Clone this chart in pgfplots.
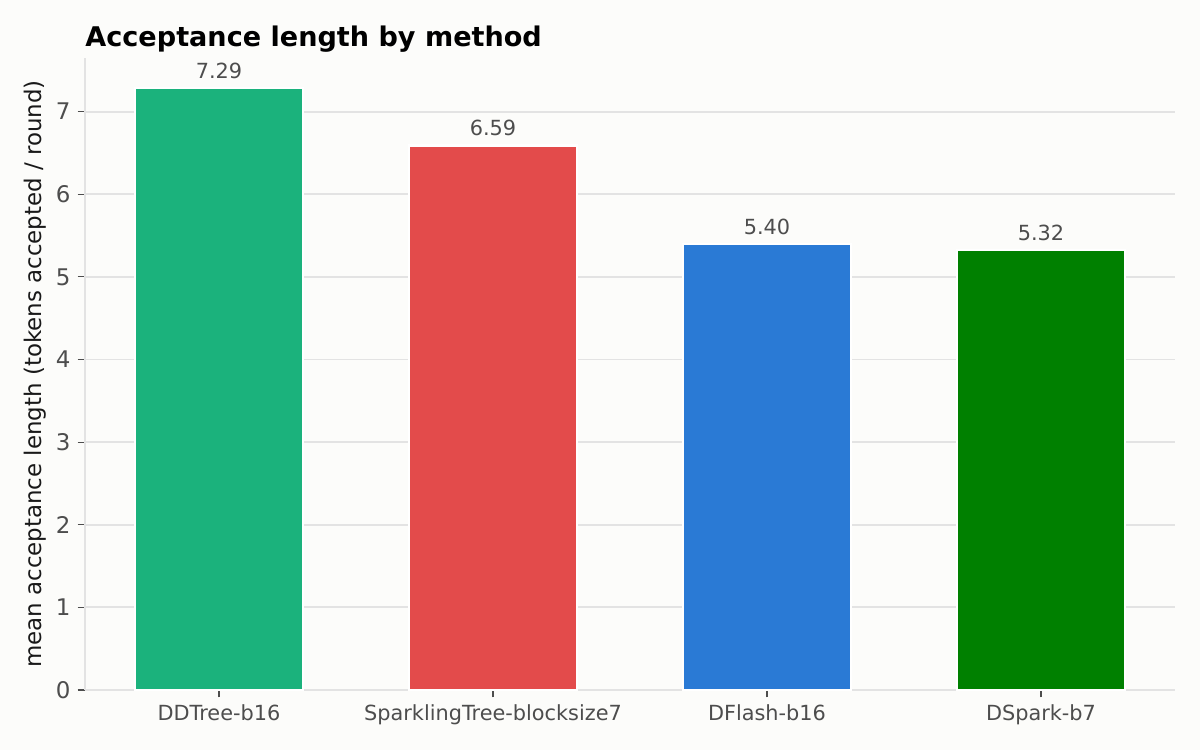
\documentclass[border=0pt]{standalone}
\usepackage{pgfplots}
\pgfplotsset{compat=1.18}
\usepackage{fontspec}
\setmainfont{DejaVu Sans}

\definecolor{bgcol}{HTML}{FCFCFA}
\definecolor{gridcol}{HTML}{E3E3E3}
\definecolor{txtcol}{HTML}{4D4D4D}
\definecolor{cTeal}{HTML}{1BB27C}
\definecolor{cRed}{HTML}{E34B4B}
\definecolor{cBlue}{HTML}{2A7AD5}
\definecolor{cGreen}{HTML}{008000}

\newcommand{\fs}[1]{\fontsize{#1}{14pt}\selectfont}

\begin{document}
\begin{tikzpicture}
% page 1200x750 px at 0.48pt per px
\fill[bgcol] (-40.8pt,-28.8pt) rectangle (535.2pt,331.2pt);
\useasboundingbox (-40.8pt,-28.8pt) rectangle (535.2pt,331.2pt);
\begin{axis}[
    at={(0,0)}, anchor=south west,
    scale only axis,
    width=523.2pt, height=303.4pt,
    xmin=-0.489, xmax=3.489,
    ymin=0, ymax=7.65,
    ybar, bar width=0.61,
    bar shift=0pt,
    xtick={0,1,2,3},
    xticklabels={DDTree-b16,SparklingTree-blocksize7,DFlash-b16,DSpark-b7},
    ytick={0,1,2,3,4,5,6,7},
    axis x line*=bottom, axis y line*=left,
    axis line style={gridcol, line width=1pt},
    every outer x axis line/.append style={-},
    every outer y axis line/.append style={-},
    ymajorgrids, grid style={gridcol, line width=0.9pt},
    tick style={txtcol, line width=0.6pt},
    tick align=outside, major tick length=3.5pt,
    xticklabel style={font=\fs{10pt}, text=txtcol},
    yticklabel style={font=\fs{11pt}, text=txtcol},
    /pgf/number format/assume math mode=true,
    ylabel={mean acceptance length (tokens accepted / round)},
    ylabel style={font=\fs{11pt}, text=black!90, at={(axis description cs:-0.0459,0.5)}, anchor=center},
    nodes near coords,
    nodes near coords style={font=\fs{10pt}, text=txtcol, yshift=0.6pt,
        /pgf/number format/fixed, /pgf/number format/precision=2,
        /pgf/number format/fixed zerofill},
    clip=false,
]
\addplot[draw=white, line width=1pt, fill=cTeal] coordinates {(0,7.29)};
\addplot[draw=white, line width=1pt, fill=cRed] coordinates {(1,6.59)};
\addplot[draw=white, line width=1pt, fill=cBlue] coordinates {(2,5.40)};
\addplot[draw=white, line width=1pt, fill=cGreen] coordinates {(3,5.32)};
\node[anchor=base west, font=\fs{13pt}\bfseries, inner sep=0pt] at (rel axis cs:0,1) [yshift=5.5pt] {Acceptance length by method};
\end{axis}
\end{tikzpicture}
\end{document}
